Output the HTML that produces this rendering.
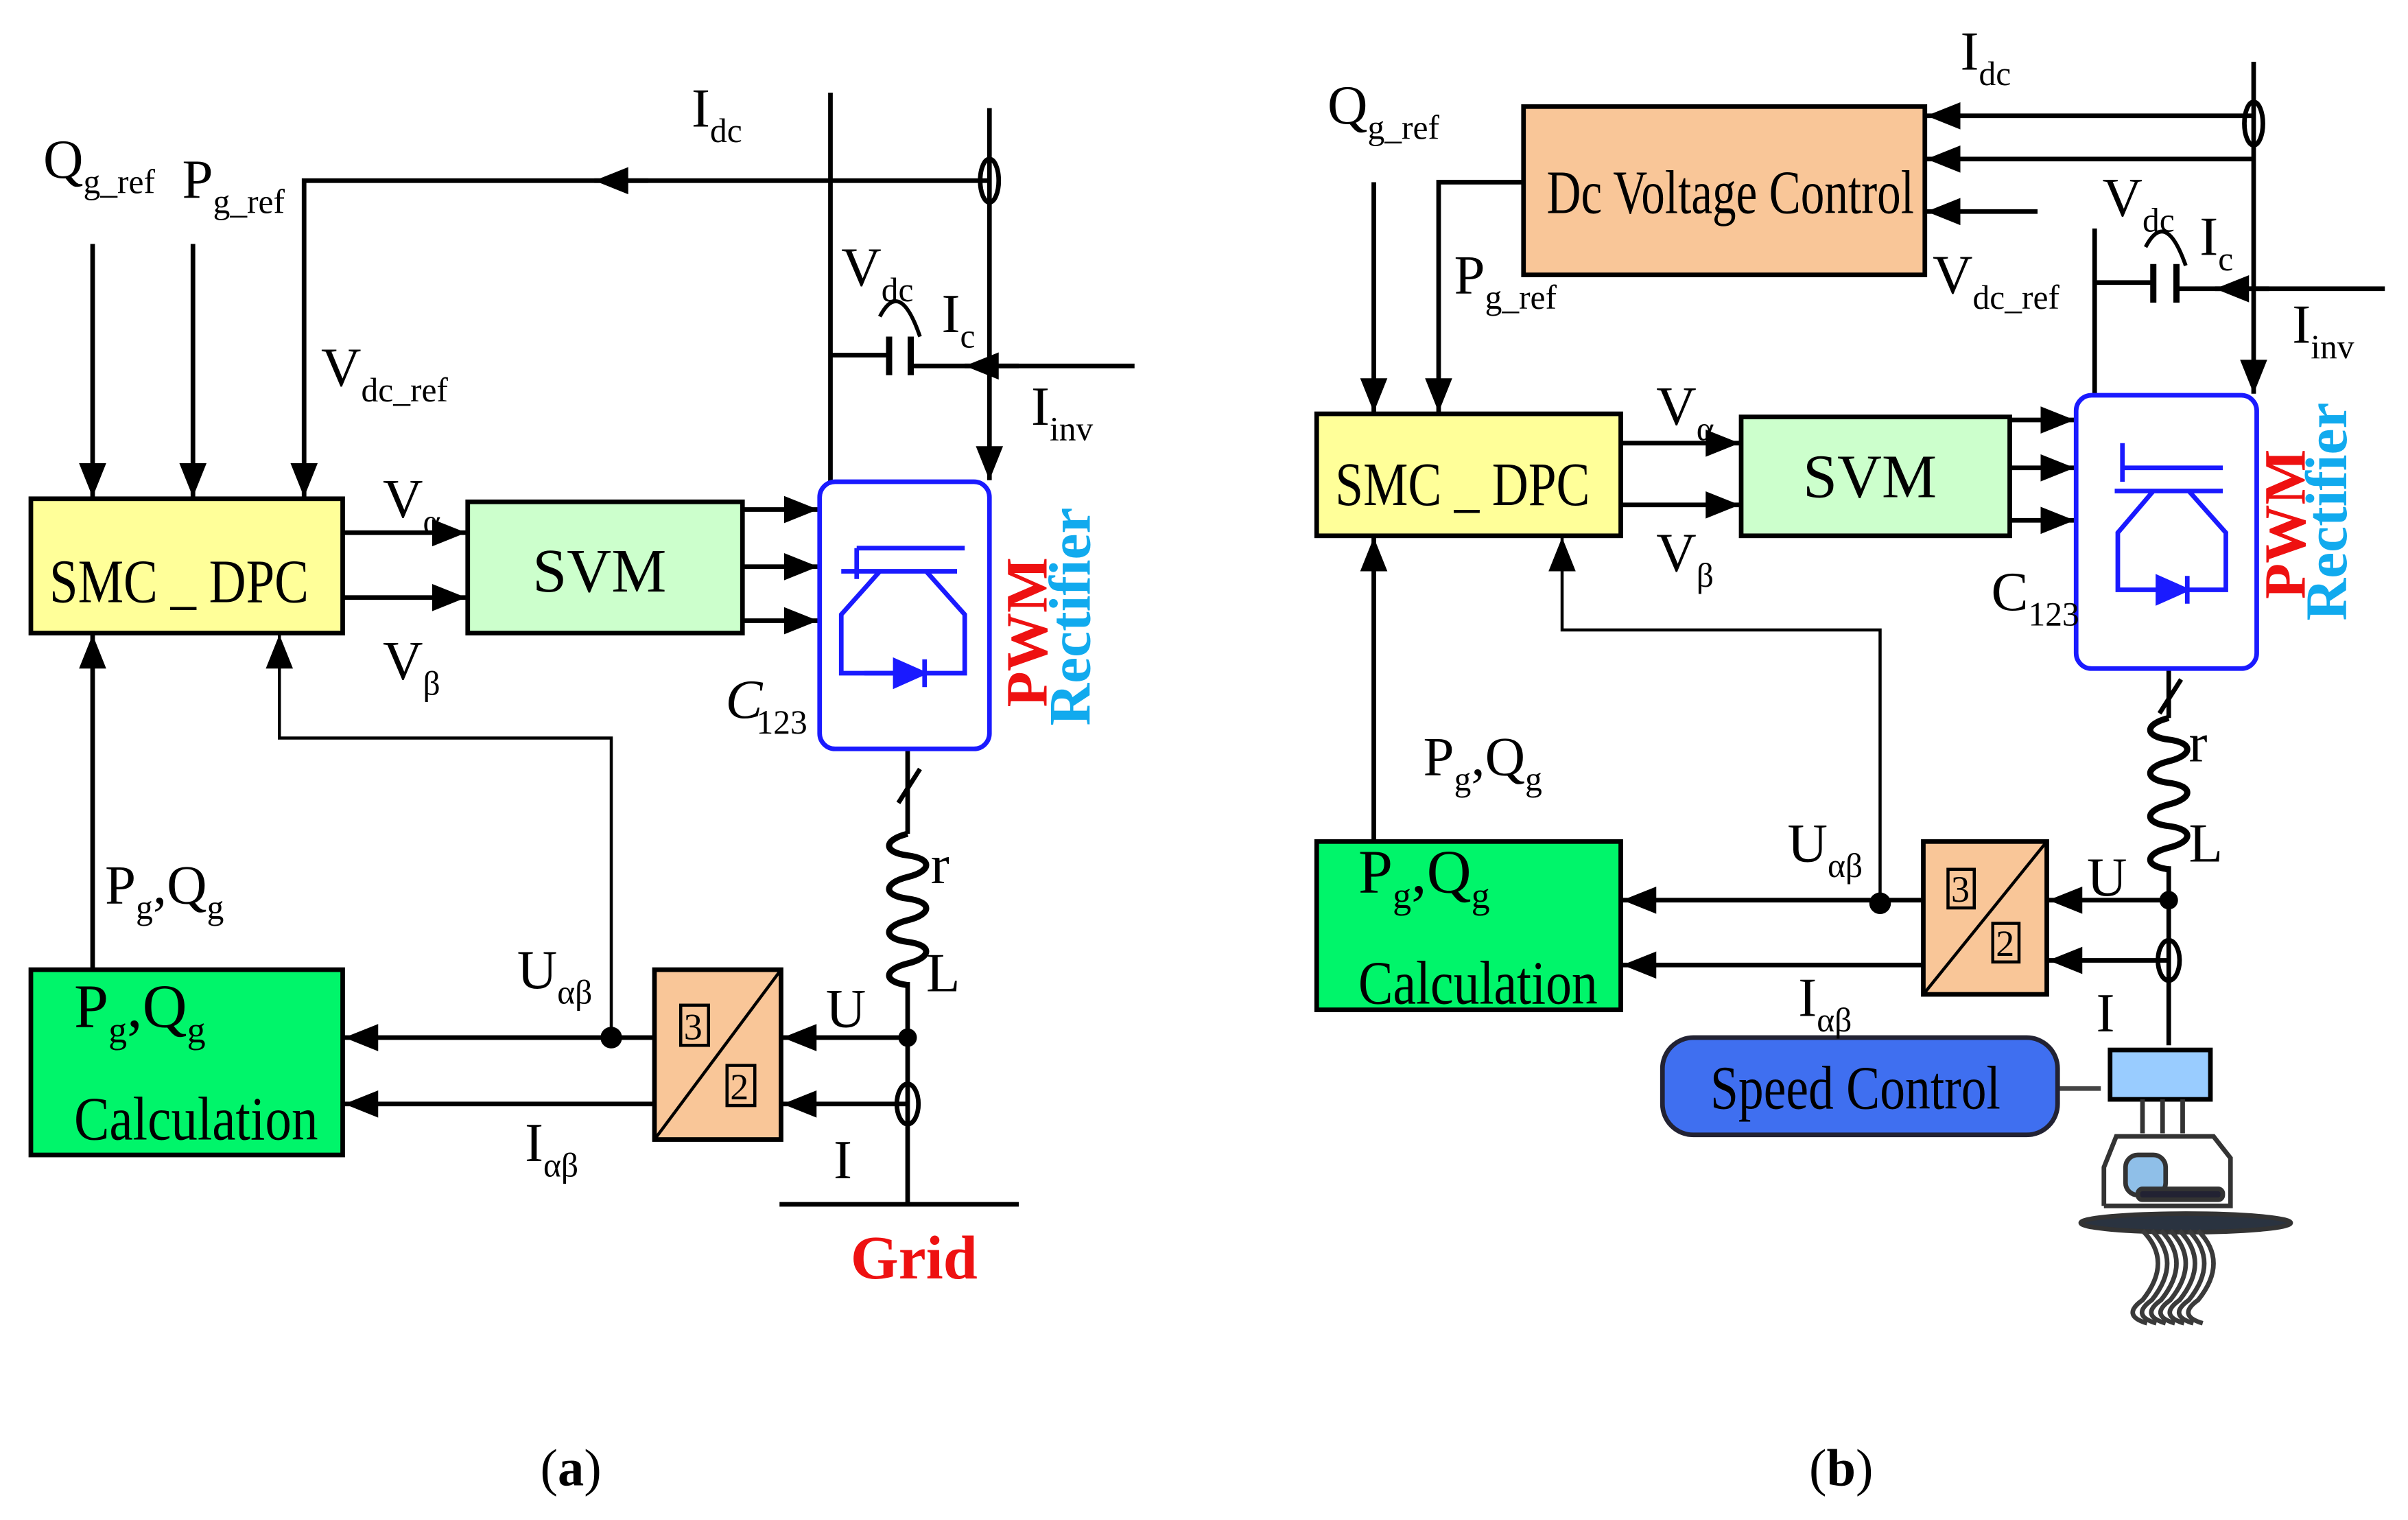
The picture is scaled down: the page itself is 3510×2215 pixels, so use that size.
<!DOCTYPE html>
<html><head><meta charset="utf-8"><style>
html,body{margin:0;padding:0;background:#fff}
svg{display:block}
text{font-family:"Liberation Serif",serif;fill:#000}
</style></head><body>
<svg width="3510" height="2215" viewBox="0 0 1560 984.4" xmlns="http://www.w3.org/2000/svg">
<defs>
<marker id="a" viewBox="0 0 10 10" refX="10" refY="5" markerWidth="8" markerHeight="8" markerUnits="userSpaceOnUse" orient="auto"><path d="M0,0 L10,5 L0,10 z" fill="#000"/></marker>
<marker id="b" viewBox="0 0 10 10" refX="10" refY="5" markerWidth="24" markerHeight="22" markerUnits="userSpaceOnUse" orient="auto"><path d="M0,1 L10,5 L0,9 z" fill="#000"/></marker>
</defs>
<g stroke="#000" stroke-width="3" fill="none">
<!-- (a) -->
<line x1="60" y1="158" x2="60" y2="322" marker-end="url(#b)"/>
<line x1="125" y1="158" x2="125" y2="322" marker-end="url(#b)"/>
<polyline points="641,117 197,117 197,322" marker-end="url(#b)"/>
<line x1="420" y1="117" x2="385" y2="117" marker-end="url(#b)"/>
<line x1="538" y1="60" x2="538" y2="312"/>
<line x1="641" y1="70" x2="641" y2="311" marker-end="url(#b)"/>
<ellipse cx="641" cy="117" rx="6" ry="14"/>
<polyline points="538,230 576,230"/>
<line x1="576" y1="218" x2="576" y2="243" stroke-width="4"/>
<line x1="590" y1="218" x2="590" y2="243" stroke-width="4"/>
<line x1="590" y1="237" x2="735" y2="237"/>
<line x1="660" y1="237" x2="625" y2="237" marker-end="url(#b)"/>
<path d="M570,205 Q583,180 596,218" stroke-width="2.5"/>
<line x1="222" y1="345" x2="302" y2="345" marker-end="url(#b)"/>
<line x1="222" y1="387" x2="302" y2="387" marker-end="url(#b)"/>
<line x1="481" y1="330" x2="530" y2="330" marker-end="url(#b)"/>
<line x1="481" y1="367" x2="530" y2="367" marker-end="url(#b)"/>
<line x1="481" y1="402" x2="530" y2="402" marker-end="url(#b)"/>
<line x1="588" y1="485" x2="588" y2="540"/>
<line x1="582" y1="520" x2="596" y2="498" stroke-width="3"/>
<path d="M588,540 c-16,4 -16,12 0,14 c16,2 16,10 0,14 c-16,4 -16,12 0,14 c16,2 16,10 0,14 c-16,4 -16,12 0,14 c16,2 16,10 0,14 c-16,4 -16,12 0,14" stroke-width="4"/>
<line x1="588" y1="636" x2="588" y2="780"/>
<line x1="505" y1="780" x2="660" y2="780"/>
<ellipse cx="588" cy="715" rx="7" ry="13"/>
<line x1="588" y1="672" x2="507" y2="672" marker-end="url(#b)"/>
<line x1="588" y1="715" x2="507" y2="715" marker-end="url(#b)"/>
<line x1="424" y1="672" x2="223" y2="672" marker-end="url(#b)"/>
<line x1="424" y1="715" x2="223" y2="715" marker-end="url(#b)"/>
<polyline points="396,672 396,478 181,478 181,411" stroke-width="2" marker-end="url(#b)"/>
<line x1="60" y1="628" x2="60" y2="411" marker-end="url(#b)"/>
<!-- (b) -->
<line x1="1460" y1="40" x2="1460" y2="255" marker-end="url(#b)"/>
<ellipse cx="1460" cy="80" rx="6" ry="14"/>
<line x1="1460" y1="75" x2="1248" y2="75" marker-end="url(#b)"/>
<line x1="1460" y1="103" x2="1248" y2="103" marker-end="url(#b)"/>
<line x1="1320" y1="137" x2="1248" y2="137" marker-end="url(#b)"/>
<line x1="890" y1="118" x2="890" y2="267" marker-end="url(#b)"/>
<polyline points="987,118 932,118 932,267" marker-end="url(#b)"/>
<line x1="1357" y1="148" x2="1357" y2="256"/>
<line x1="1357" y1="183" x2="1395" y2="183"/>
<line x1="1395" y1="171" x2="1395" y2="196" stroke-width="4"/>
<line x1="1410" y1="171" x2="1410" y2="196" stroke-width="4"/>
<line x1="1410" y1="187" x2="1545" y2="187"/>
<line x1="1470" y1="187" x2="1435" y2="187" marker-end="url(#b)"/>
<path d="M1390,160 Q1403,135 1416,172" stroke-width="2.5"/>
<line x1="1050" y1="287" x2="1127" y2="287" marker-end="url(#b)"/>
<line x1="1050" y1="327" x2="1127" y2="327" marker-end="url(#b)"/>
<line x1="1302" y1="272" x2="1344" y2="272" marker-end="url(#b)"/>
<line x1="1302" y1="303" x2="1344" y2="303" marker-end="url(#b)"/>
<line x1="1302" y1="337" x2="1344" y2="337" marker-end="url(#b)"/>
<line x1="1405" y1="433" x2="1405" y2="465"/>
<line x1="1399" y1="462" x2="1413" y2="440"/>
<path d="M1405,465 c-16,4 -16,12 0,14 c16,2 16,10 0,14 c-16,4 -16,12 0,14 c16,2 16,10 0,14 c-16,4 -16,12 0,14 c16,2 16,10 0,14 c-16,4 -16,12 0,14" stroke-width="4"/>
<line x1="1405" y1="561" x2="1405" y2="677"/>
<ellipse cx="1405" cy="622" rx="7" ry="13"/>
<line x1="1405" y1="583" x2="1327" y2="583" marker-end="url(#b)"/>
<line x1="1405" y1="622" x2="1327" y2="622" marker-end="url(#b)"/>
<line x1="1246" y1="583" x2="1051" y2="583" marker-end="url(#b)"/>
<line x1="1246" y1="625" x2="1051" y2="625" marker-end="url(#b)"/>
<polyline points="1218,585 1218,408 1012,408 1012,348" stroke-width="2" marker-end="url(#b)"/>
<line x1="890" y1="545" x2="890" y2="348" marker-end="url(#b)"/>
<line x1="1333" y1="705" x2="1361" y2="705" stroke="#444"/>
</g>
<g fill="#000">
<circle cx="588" cy="672" r="6"/><circle cx="396" cy="672" r="7"/>
<circle cx="1405" cy="583" r="6"/><circle cx="1218" cy="585" r="7"/>
</g>
<!-- boxes -->
<g stroke="#000" stroke-width="3">
<rect x="20" y="323" width="202" height="87" fill="#FFFF99"/>
<rect x="303" y="325" width="178" height="85" fill="#CCFFCC"/>
<rect x="20" y="628" width="202" height="120" fill="#00F56A"/>
<rect x="424" y="628" width="82" height="110" fill="#F9C698"/>
<line x1="424" y1="738" x2="506" y2="628" stroke-width="2"/>
<rect x="987" y="69" width="260" height="109" fill="#F9C698"/>
<rect x="853" y="268" width="197" height="79" fill="#FFFF99"/>
<rect x="1128" y="270" width="174" height="77" fill="#CCFFCC"/>
<rect x="853" y="545" width="197" height="109" fill="#00F56A"/>
<rect x="1246" y="545" width="80" height="99" fill="#F9C698"/>
<line x1="1246" y1="644" x2="1326" y2="545" stroke-width="2"/>
<rect x="1077" y="672" width="256" height="63" rx="20" fill="#3F6FF0" stroke="#223"/>
</g>
<g stroke="#000" stroke-width="2" fill="none">
<rect x="441" y="651" width="18" height="26"/><rect x="471" y="690" width="18" height="26"/>
<rect x="1262" y="563" width="17" height="25"/><rect x="1291" y="598" width="17" height="25"/>
</g>
<!-- rectifiers -->
<g stroke="#1a1aff" fill="none" stroke-width="3">
<rect x="531" y="312" width="110" height="173" rx="10"/>
<line x1="555" y1="355" x2="625" y2="355"/><line x1="555" y1="355" x2="555" y2="375"/>
<line x1="545" y1="370" x2="620" y2="370"/>
<polyline points="570,370 545,398 545,436 625,436 625,398 600,370"/>
<line x1="560" y1="436" x2="590" y2="436"/>
<path d="M580,428 L598,436 L580,444 z M599,427 L599,445" fill="#1a1aff"/>
<rect x="1345" y="256" width="117" height="177" rx="10"/>
<line x1="1375" y1="287" x2="1375" y2="312"/><line x1="1375" y1="303" x2="1440" y2="303"/>
<line x1="1370" y1="318" x2="1440" y2="318"/>
<polyline points="1395,318 1372,345 1372,382 1442,382 1442,345 1418,318"/>
<path d="M1398,374 L1416,382 L1398,390 z M1417,373 L1417,391" fill="#1a1aff"/>
</g>
<!-- turbine -->
<g stroke="#333" stroke-width="3">
<rect x="1367" y="680" width="65" height="32" fill="#99CCFF" stroke="#000" stroke-width="3"/>
<line x1="1388" y1="712" x2="1388" y2="734"/><line x1="1401" y1="712" x2="1401" y2="734"/><line x1="1414" y1="712" x2="1414" y2="734"/>
<polyline points="1363,781 1363,756 1371,736 1434,736 1445,750 1445,781 1363,781" fill="none"/>
<rect x="1377" y="748" width="26" height="26" rx="8" fill="#8fbfe8"/>
<line x1="1373" y1="740" x2="1373" y2="790" stroke="none"/>
<rect x="1385" y="770" width="55" height="7" rx="3" fill="#223"/>
<ellipse cx="1416" cy="792" rx="68" ry="6" fill="#2a3340"/>
</g>
<g stroke="#3a3a3a" stroke-width="3" fill="none">
<path d="M1388,797 q20,20 0,45 q-14,10 3,15"/><path d="M1394,797 q20,20 0,45 q-14,10 3,15"/><path d="M1400,797 q20,20 0,45 q-14,10 3,15"/><path d="M1406,797 q20,20 0,45 q-14,10 3,15"/><path d="M1412,797 q20,20 0,45 q-14,10 3,15"/><path d="M1418,797 q20,20 0,45 q-14,10 3,15"/><path d="M1424,797 q20,20 0,45 q-14,10 3,15"/>
</g>
<!-- text -->
<g font-size="40">
<text x="32" y="390" textLength="168" lengthAdjust="spacingAndGlyphs">SMC _ DPC</text>
<text x="345" y="383">SVM</text>
<text x="48" y="665">P<tspan font-size="24" dy="10">g</tspan><tspan dy="-10">,Q</tspan><tspan font-size="24" dy="10">g</tspan></text>
<text x="48" y="738" textLength="158" lengthAdjust="spacingAndGlyphs">Calculation</text>
<text x="1002" y="138" textLength="238" lengthAdjust="spacingAndGlyphs">Dc Voltage Control</text>
<text x="865" y="327" textLength="165" lengthAdjust="spacingAndGlyphs">SMC _ DPC</text>
<text x="1168" y="322">SVM</text>
<text x="880" y="578">P<tspan font-size="24" dy="10">g</tspan><tspan dy="-10">,Q</tspan><tspan font-size="24" dy="10">g</tspan></text>
<text x="880" y="650" textLength="155" lengthAdjust="spacingAndGlyphs">Calculation</text>
<text x="1108" y="718" textLength="188" lengthAdjust="spacingAndGlyphs">Speed Control</text>
</g>
<g font-size="24"><text x="443" y="673">3</text><text x="473" y="712">2</text><text x="1264" y="584">3</text><text x="1293" y="619">2</text></g>
<g font-size="36">
<text x="28" y="115">Q<tspan font-size="22" dy="10">g_ref</tspan></text>
<text x="118" y="128">P<tspan font-size="22" dy="10">g_ref</tspan></text>
<text x="448" y="82">I<tspan font-size="22" dy="10">dc</tspan></text>
<text x="208" y="250">V<tspan font-size="22" dy="10">dc_ref</tspan></text>
<text x="545" y="185">V<tspan font-size="22" dy="10">dc</tspan></text>
<text x="610" y="215">I<tspan font-size="22" dy="10">c</tspan></text>
<text x="668" y="275">I<tspan font-size="22" dy="10">inv</tspan></text>
<text x="248" y="335">V<tspan font-size="22" dy="10">α</tspan></text>
<text x="248" y="440">V<tspan font-size="22" dy="10">β</tspan></text>
<text x="470" y="465" font-style="italic">C</text><text x="490" y="475" font-size="22">123</text>
<text x="603" y="572">r</text>
<text x="600" y="642">L</text>
<text x="535" y="665">U</text>
<text x="540" y="763">I</text>
<text x="335" y="640">U<tspan font-size="22" dy="10">αβ</tspan></text>
<text x="340" y="752">I<tspan font-size="22" dy="10">αβ</tspan></text>
<text x="68" y="585">P<tspan font-size="22" dy="10">g</tspan><tspan dy="-10">,Q</tspan><tspan font-size="22" dy="10">g</tspan></text>
<text x="860" y="80">Q<tspan font-size="22" dy="10">g_ref</tspan></text>
<text x="942" y="190">P<tspan font-size="22" dy="10">g_ref</tspan></text>
<text x="1270" y="45">I<tspan font-size="22" dy="10">dc</tspan></text>
<text x="1252" y="190">V<tspan font-size="22" dy="10">dc_ref</tspan></text>
<text x="1362" y="140">V<tspan font-size="22" dy="10">dc</tspan></text>
<text x="1425" y="165">I<tspan font-size="22" dy="10">c</tspan></text>
<text x="1485" y="222">I<tspan font-size="22" dy="10">inv</tspan></text>
<text x="1073" y="275">V<tspan font-size="22" dy="10">α</tspan></text>
<text x="1073" y="370">V<tspan font-size="22" dy="10">β</tspan></text>
<text x="1290" y="395">C<tspan font-size="22" dy="10">123</tspan></text>
<text x="1418" y="493">r</text>
<text x="1418" y="558">L</text>
<text x="1352" y="580">U</text>
<text x="1358" y="668">I</text>
<text x="1158" y="558">U<tspan font-size="22" dy="10">αβ</tspan></text>
<text x="1165" y="658">I<tspan font-size="22" dy="10">αβ</tspan></text>
<text x="922" y="502">P<tspan font-size="22" dy="10">g</tspan><tspan dy="-10">,Q</tspan><tspan font-size="22" dy="10">g</tspan></text>
<text x="350" y="962" font-size="34">(<tspan font-weight="bold">a</tspan>)</text>
<text x="1172" y="962" font-size="34">(<tspan font-weight="bold">b</tspan>)</text>
</g>
<text x="551" y="828" font-size="40" font-weight="bold" style="fill:#ee1111">Grid</text>
<g font-weight="bold" font-size="38">
<text transform="translate(678,458) rotate(-90)" style="fill:#ee1111">PWM</text>
<text transform="translate(706,470) rotate(-90)" style="fill:#11aaee">Rectifier</text>
<text transform="translate(1493,388) rotate(-90)" style="fill:#ee1111">PWM</text>
<text transform="translate(1520,402) rotate(-90)" style="fill:#11aaee">Rectifier</text>
</g>
</svg>
</body></html>
